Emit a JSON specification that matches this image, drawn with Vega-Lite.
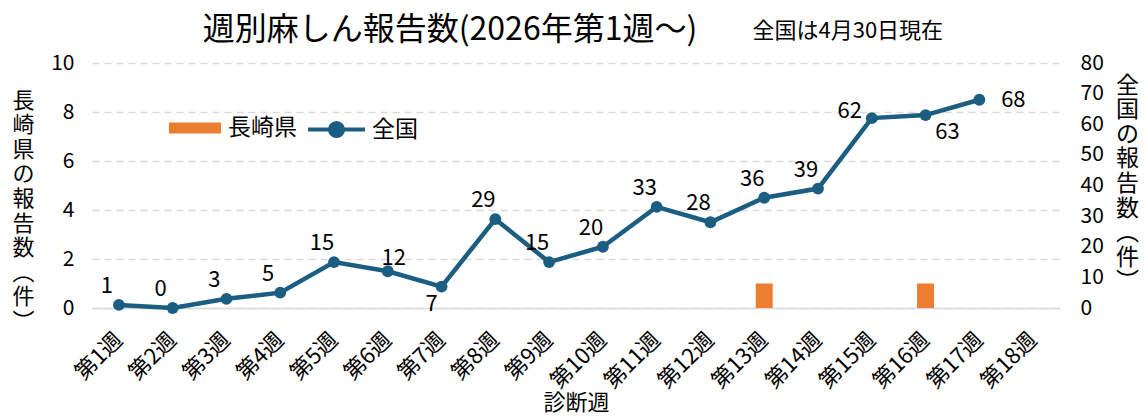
{
  "$schema": "https://vega.github.io/schema/vega-lite/v6.json",
  "autosize": "none",
  "width": 968,
  "height": 245,
  "padding": {"left": 92, "top": 63, "right": 86, "bottom": 109},
  "background": "white",
  "config": {
    "font": "Noto Sans CJK JP, sans-serif",
    "view": {"stroke": null},
    "legend": {"padding": 0}
  },
  "title": {
    "text": "週別麻しん報告数(2026年第1週～)",
    "fontSize": 32,
    "fontWeight": "normal",
    "color": "black",
    "anchor": "middle",
    "dx": -126,
    "dy": 41,
    "offset": 14
  },
  "data": {
    "values": [
      {"week": "第1週", "nagasaki": 0, "zenkoku": 1},
      {"week": "第2週", "nagasaki": 0, "zenkoku": 0},
      {"week": "第3週", "nagasaki": 0, "zenkoku": 3},
      {"week": "第4週", "nagasaki": 0, "zenkoku": 5},
      {"week": "第5週", "nagasaki": 0, "zenkoku": 15},
      {"week": "第6週", "nagasaki": 0, "zenkoku": 12},
      {"week": "第7週", "nagasaki": 0, "zenkoku": 7},
      {"week": "第8週", "nagasaki": 0, "zenkoku": 29},
      {"week": "第9週", "nagasaki": 0, "zenkoku": 15},
      {"week": "第10週", "nagasaki": 0, "zenkoku": 20},
      {"week": "第11週", "nagasaki": 0, "zenkoku": 33},
      {"week": "第12週", "nagasaki": 0, "zenkoku": 28},
      {"week": "第13週", "nagasaki": 1, "zenkoku": 36},
      {"week": "第14週", "nagasaki": 0, "zenkoku": 39},
      {"week": "第15週", "nagasaki": 0, "zenkoku": 62},
      {"week": "第16週", "nagasaki": 1, "zenkoku": 63},
      {"week": "第17週", "nagasaki": 0, "zenkoku": 68},
      {"week": "第18週", "nagasaki": 0, "zenkoku": null}
    ]
  },
  "encoding": {
    "x": {
      "field": "week",
      "type": "nominal",
      "scale": {
        "domain": ["第1週","第2週","第3週","第4週","第5週","第6週","第7週","第8週","第9週","第10週","第11週","第12週","第13週","第14週","第15週","第16週","第17週","第18週"],
        "paddingInner": 0,
        "paddingOuter": 0
      },
      "axis": {
        "title": "診断週",
        "titleFontSize": 22,
        "titleFontWeight": "normal",
        "titleColor": "black",
        "titleBaseline": "top",
        "titleY": 84,
        "labelAngle": -45,
        "labelAlign": "right",
        "labelBaseline": "middle",
        "labelFontSize": 22,
        "labelColor": "black",
        "labelPadding": 28,
        "ticks": false,
        "domainColor": "#d9d9d9",
        "domainWidth": 1.5,
        "grid": false
      }
    }
  },
  "layer": [
    {
      "layer": [
        {
          "transform": [{"filter": "datum.nagasaki > 0"}],
          "mark": {"type": "bar", "size": 17},
          "encoding": {
            "y": {
              "field": "nagasaki",
              "type": "quantitative",
              "scale": {"domain": [0, 10], "nice": false},
              "axis": {
                "title": ["長","崎","県","の","報","告","数","︵","件","︶"],
                "titleAngle": 0,
                "titleX": -69,
                "titleY": 27,
                "titleBaseline": "top",
                "titleAlign": "center",
                "titleFontSize": 22,
                "titleLineHeight": 24.6,
                "titleFontWeight": "normal",
                "titleColor": "black",
                "labelFontSize": 21,
                "labelPadding": 18,
                "labelColor": "black",
                "ticks": false,
                "domain": false,
                "values": [0, 2, 4, 6, 8, 10],
                "grid": true,
                "gridDash": [7, 5],
                "gridColor": "#d9d9d9",
                "gridWidth": 1.5
              }
            },
            "fill": {
              "datum": "長崎県",
              "scale": {"range": ["#ED7D31"]},
              "legend": {
                "title": null,
                "orient": "none",
                "legendX": 77,
                "legendY": 39,
                "symbolType": "M-1,-0.21H1V0.21H-1Z",
                "symbolSize": 2704,
                "symbolStrokeWidth": 0,
                "labelFontSize": 23,
                "labelColor": "black",
                "labelOffset": 7
              }
            }
          }
        },
        {
          "data": {"values": [{"week": "第15週", "level": 11.3, "note": "全国は4月30日現在"}]},
          "mark": {"type": "text", "fontSize": 22, "color": "black", "align": "center", "baseline": "middle", "dx": -24},
          "encoding": {
            "x": {"field": "week", "type": "nominal"},
            "y": {"field": "level", "type": "quantitative"},
            "text": {"field": "note"}
          }
        }
      ]
    },
    {
      "transform": [{"filter": "isValid(datum.zenkoku)"}],
      "encoding": {
        "y": {
          "field": "zenkoku",
          "type": "quantitative",
          "scale": {"domain": [0, 80], "nice": false},
          "axis": {
            "orient": "right",
            "title": ["全","国","の","報","告","数","︵","件","︶"],
            "titleAngle": 0,
            "titleX": 67,
            "titleY": 11,
            "titleBaseline": "top",
            "titleAlign": "center",
            "titleFontSize": 23,
            "titleLineHeight": 24.6,
            "titleFontWeight": "normal",
            "titleColor": "black",
            "labelFontSize": 21,
            "labelPadding": 20,
            "labelColor": "black",
            "ticks": false,
            "domain": false,
            "values": [0, 10, 20, 30, 40, 50, 60, 70, 80],
            "grid": false
          }
        }
      },
      "layer": [
        {
          "mark": {"type": "line", "strokeWidth": 4.5},
          "encoding": {
            "stroke": {
              "datum": "全国",
              "scale": {"range": ["#1B5E82"]},
              "legend": {
                "title": null,
                "orient": "none",
                "legendX": 214,
                "legendY": 36,
                "symbolType": "M-1,0H1M0.23,0A0.23,0.23 0 1,1 -0.23,0A0.23,0.23 0 1,1 0.23,0Z",
                "symbolSize": 3249,
                "symbolStrokeWidth": 4,
                "symbolFillColor": "#1B5E82",
                "labelFontSize": 23,
                "labelColor": "black",
                "labelOffset": 5
              }
            }
          }
        },
        {
          "mark": {"type": "point", "filled": true, "size": 140, "color": "#1B5E82", "opacity": 1},
          "encoding": {}
        },
        {
          "transform": [{"filter": "indexof(['第6週','第7週','第15週','第16週','第17週'], datum.week) < 0"}],
          "mark": {"type": "text", "fontSize": 22, "color": "black", "dx": -12, "dy": -19},
          "encoding": {"text": {"field": "zenkoku"}}
        },
        {
          "transform": [{"filter": "datum.week === '第6週'"}],
          "mark": {"type": "text", "fontSize": 22, "color": "black", "dx": 6, "dy": -13},
          "encoding": {"text": {"field": "zenkoku"}}
        },
        {
          "transform": [{"filter": "datum.week === '第7週'"}],
          "mark": {"type": "text", "fontSize": 22, "color": "black", "dx": -10, "dy": 17},
          "encoding": {"text": {"field": "zenkoku"}}
        },
        {
          "transform": [{"filter": "datum.week === '第15週'"}],
          "mark": {"type": "text", "fontSize": 22, "color": "black", "dx": -22, "dy": -7},
          "encoding": {"text": {"field": "zenkoku"}}
        },
        {
          "transform": [{"filter": "datum.week === '第16週'"}],
          "mark": {"type": "text", "fontSize": 22, "color": "black", "dx": 22, "dy": 17},
          "encoding": {"text": {"field": "zenkoku"}}
        },
        {
          "transform": [{"filter": "datum.week === '第17週'"}],
          "mark": {"type": "text", "fontSize": 22, "color": "black", "dx": 34, "dy": 0},
          "encoding": {"text": {"field": "zenkoku"}}
        }
      ]
    }
  ],
  "resolve": {"scale": {"y": "independent"}, "axis": {"y": "independent"}}
}
